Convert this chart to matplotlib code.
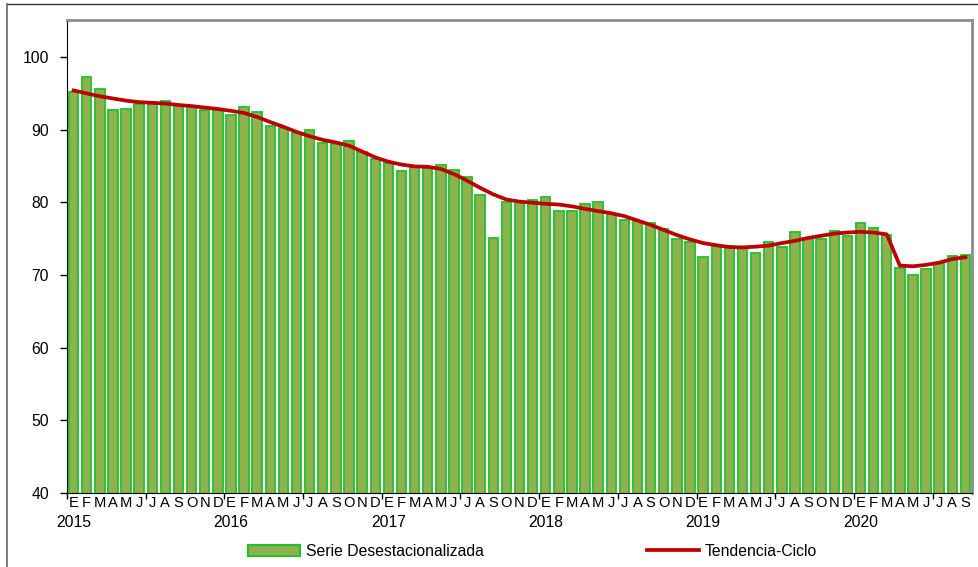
import numpy as np
import matplotlib
matplotlib.use("Agg")
import matplotlib.pyplot as plt
from matplotlib.lines import Line2D
from matplotlib.patches import Patch

plt.rcParams['font.family'] = ['Liberation Sans', 'DejaVu Sans']

# month initials (spanish) and years shown under january
months = ["E", "F", "M", "A", "M", "J", "J", "A", "S", "O", "N", "D"]
years = [2015, 2016, 2017, 2018, 2019, 2020]

# seasonally adjusted series, jan 2015 - sep 2020
serie = [
    95.2, 97.3, 95.6, 92.75, 92.85, 93.6, 93.6, 94.0, 93.4, 93.2, 92.75, 92.7,
    92.0, 93.1, 92.4, 90.5, 90.2, 89.5, 89.9, 88.2, 88.1, 88.4, 86.9, 86.0,
    85.4, 84.3, 84.9, 84.7, 85.2, 84.4, 83.5, 81.0, 75.1, 80.0, 80.0, 80.3,
    80.7, 78.8, 78.8, 79.8, 80.0, 78.4, 77.6, 77.5, 77.1, 76.3, 74.9, 74.6,
    72.5, 74.0, 74.0, 73.7, 73.1, 74.6, 73.8, 75.9, 75.1, 74.95, 76.1, 75.4,
    77.2, 76.5, 75.5, 71.0, 70.0, 70.85, 71.6, 72.6, 72.8,
]

# trend-cycle
tendencia = [
    95.4, 95.0, 94.6, 94.3, 94.0, 93.8, 93.7, 93.6, 93.4, 93.25, 93.05, 92.85,
    92.6, 92.3, 91.75, 91.05, 90.4, 89.7, 89.1, 88.6, 88.25, 87.8, 87.0, 86.2,
    85.6, 85.2, 84.95, 84.9, 84.6, 83.9, 83.0, 82.0, 81.1, 80.4, 80.1, 79.95,
    79.8, 79.7, 79.45, 79.1, 78.8, 78.5, 78.1, 77.5, 76.9, 76.2, 75.5, 74.9,
    74.4, 74.1, 73.85, 73.8, 73.9, 74.05, 74.4, 74.7, 75.1, 75.4, 75.7, 75.85,
    75.95, 75.85, 75.6, 71.3, 71.2, 71.4, 71.7, 72.2, 72.45,
]

bar_color = "#90b24e"
bar_edge = "#1ec32c"
trend_color = "#c00000"
fs = 11.3

n = len(serie)
x = np.arange(n)

# month letter under every bar
labels = [months[i % 12] for i in range(n)]

fig = plt.figure(figsize=(9.79, 5.67), dpi=100)
ax = fig.add_axes([67 / 979, 1 - 493 / 567, 905 / 979, 473 / 567])

ax.bar(x, serie, width=0.72, color=bar_color, edgecolor=bar_edge,
       linewidth=1.3, zorder=2)
ax.plot(x, tendencia, color=trend_color, lw=2.7, zorder=3)

ax.set_xlim(-0.5, n - 0.5)
ax.set_ylim(40, 105.1)
ax.set_yticks(range(40, 101, 10))

# ticks every six months between bars, labels on bar centres
ax.set_xticks(np.arange(-0.5, n - 0.5, 6))
ax.set_xticklabels([])
ax.set_xticks(x, minor=True)
ax.set_xticklabels(labels, minor=True, fontsize=10.6)
ax.tick_params(axis="x", which="minor", length=0, pad=2.5)
ax.tick_params(axis="x", which="major", length=4, direction="out", width=1)
ax.tick_params(axis="y", length=5, pad=8, labelsize=fs, width=1)

# year under each january
for k, yr in enumerate(years):
    ax.text(k * 12, -0.0719, str(yr), transform=ax.get_xaxis_transform(),
            ha="center", va="baseline", fontsize=fs)

for side in ["top", "right"]:
    ax.spines[side].set_color("#8c8c8c")
    ax.spines[side].set_linewidth(2)
ax.spines["left"].set_color("black")
ax.spines["bottom"].set_color("black")

# legend below the chart
handles = [
    Patch(facecolor=bar_color, edgecolor=bar_edge, linewidth=1.5),
    Line2D([], [], color=trend_color, lw=2.7),
]
fig.legend(handles, ["Serie Desestacionalizada", "Tendencia-Ciclo"],
           loc="center", bbox_to_anchor=(0.544, 0.028), ncol=2,
           frameon=False, handlelength=3.3, columnspacing=10.4,
           handletextpad=0.4, fontsize=fs, borderpad=0)

# outer frame (left and top edges)
fig.add_artist(Line2D([7 / 979, 1], [1 - 3.5 / 567, 1 - 3.5 / 567],
                      transform=fig.transFigure, color="#333333", lw=1))
fig.add_artist(Line2D([7 / 979, 7 / 979], [0, 1 - 3.5 / 567],
                      transform=fig.transFigure, color="#666666", lw=1.2))

fig.savefig("out.png", dpi=100)
plt.close(fig)
